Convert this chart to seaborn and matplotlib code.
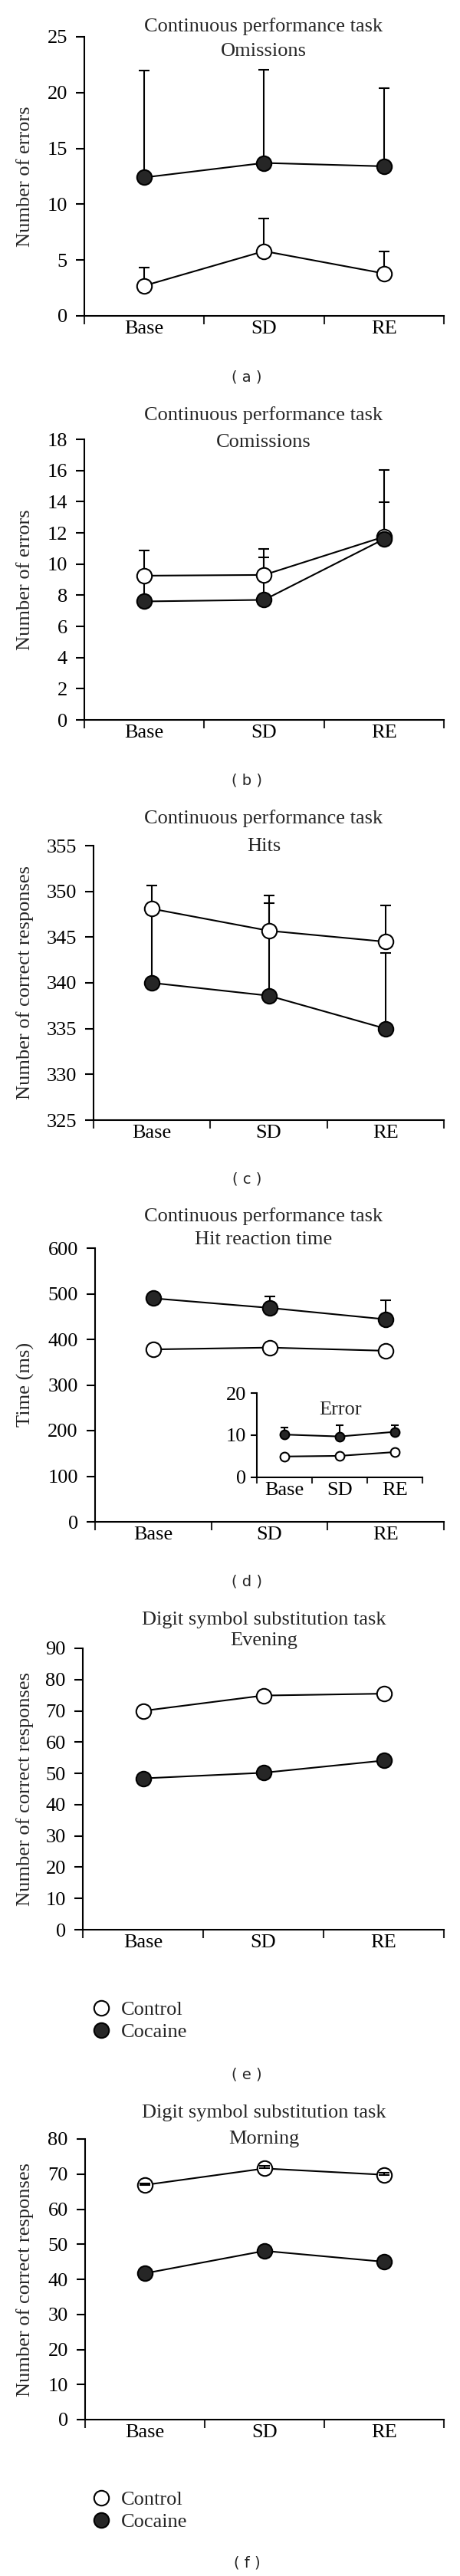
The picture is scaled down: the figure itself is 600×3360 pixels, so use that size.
import numpy as np
import pandas as pd
import seaborn as sns
import matplotlib.pyplot as plt
from matplotlib.lines import Line2D

conditions = ['Base', 'SD', 'RE']

# (a) omissions
omis_control = [2.7, 5.8, 3.8]
omis_control_err = [1.6, 2.9, 2.0]
omis_cocaine = [12.4, 13.7, 13.4]
omis_cocaine_err = [9.6, 8.35, 7.0]

# (b) comissions
comis_control = [9.25, 9.3, 11.75]
comis_control_err = [1.6, 1.65, 4.3]
comis_cocaine = [7.6, 7.7, 11.6]
comis_cocaine_err = [1.9, 2.75, 2.35]

# (c) hits
hits_control = [348.1, 345.7, 344.5]
hits_control_err = [2.55, 3.85, 4.0]
hits_cocaine = [340.0, 338.6, 335.0]
hits_cocaine_err = [7.8, 10.1, 8.3]

# (d) hit reaction time + inset error
rt_control = [378, 382, 375]
rt_control_err = [6, 7, 6]
rt_cocaine = [490, 469, 444]
rt_cocaine_err = [10, 25, 42]
rterr_control = [4.95, 5.1, 6.0]
rterr_control_err = [0.5, 0.5, 0.5]
rterr_cocaine = [10.15, 9.7, 10.8]
rterr_cocaine_err = [1.75, 2.6, 1.5]

# (e) DSST evening
eve_control = [70.0, 74.9, 75.5]
eve_cocaine = [48.4, 50.2, 54.1]

# (f) DSST morning
morn_control = [66.9, 71.6, 69.8]
morn_control_err = [0.5, 0.7, 0.6]
morn_cocaine = [41.7, 48.1, 45.0]

sns.set_theme(style='ticks')
plt.rcParams['font.family'] = ['Liberation Serif', 'DejaVu Serif']
plt.rcParams['axes.linewidth'] = 1.5

W, H = 600, 3360
fig = plt.figure(figsize=(W / 100, H / 100), dpi=100)

FS = 19
COC = '#262626'


def px_axes(left, right, top, bottom):
    return fig.add_axes([left / W, 1 - bottom / H, (right - left) / W, (bottom - top) / H])


def style_axis(ax, ylim, yticks, fs=FS, ms_tick=8):
    ax.set_xlim(0, 3)
    ax.set_ylim(*ylim)
    ax.set_yticks(yticks)
    ax.set_xticks([0, 1, 2, 3])
    ax.set_xticklabels([])
    ax.set_xticks([0.5, 1.5, 2.5], minor=True)
    ax.set_xticklabels(conditions, minor=True)
    ax.tick_params(axis='x', which='major', length=ms_tick, width=1.5, direction='out')
    ax.tick_params(axis='x', which='minor', length=0, pad=4, labelsize=fs, colors='black')
    ax.tick_params(axis='y', length=ms_tick, width=1.5, pad=8, labelsize=fs, colors='black')
    ax.set_xlabel('')
    ax.set_ylabel('')
    sns.despine(ax=ax)
    for s in ['left', 'bottom']:
        ax.spines[s].set_color('black')
        ax.spines[s].set_linewidth(1.5)


def plot_group(ax, vals, errs, face, z, ms=14, err_z=2, cap=5):
    xpos = np.arange(len(conditions)) + 0.5
    if errs is not None:
        ax.errorbar(xpos, vals, yerr=[np.zeros(len(errs)), errs], fmt='none',
                    ecolor='black', elinewidth=1.5, capsize=cap, capthick=1.5, zorder=err_z)
    df = pd.DataFrame({'pos': xpos, 'value': vals})
    sns.lineplot(data=df, x='pos', y='value', ax=ax, color='black', linewidth=1.5,
                 marker='o', markersize=ms, markerfacecolor=face, markeredgecolor='black',
                 markeredgewidth=1.5, zorder=z, legend=False)


def titles(lines, ys, x=344):
    for t, y in zip(lines, ys):
        fig.text(x / W, 1 - y / H, t, ha='center', va='center', fontsize=FS)


def ylabel(text, y):
    fig.text(33 / W, 1 - y / H, text, ha='center', va='center', rotation=90, fontsize=FS)


def panel_label(text, y):
    fig.text(322 / W, 1 - y / H, text, ha='center', va='center', fontsize=14,
             family=['DejaVu Sans'])


def legend_at(y):
    handles = [Line2D([], [], linestyle='none', marker='o', markersize=14,
                      markerfacecolor='white', markeredgecolor='black', markeredgewidth=1.5),
               Line2D([], [], linestyle='none', marker='o', markersize=14,
                      markerfacecolor=COC, markeredgecolor='black', markeredgewidth=1.5)]
    fig.legend(handles, ['Control', 'Cocaine'], loc='center left',
               bbox_to_anchor=(106 / W, 1 - y / H), frameon=False, fontsize=FS,
               borderpad=0, handlelength=1, handletextpad=0.48, labelspacing=0.2)


# (a)
ax = px_axes(110, 579, 48, 412)
plot_group(ax, omis_control, omis_control_err, 'white', 3)
plot_group(ax, omis_cocaine, omis_cocaine_err, COC, 4)
style_axis(ax, (0, 25), [0, 5, 10, 15, 20, 25])
titles(['Continuous performance task', 'Omissions'], [35, 67])
ylabel('Number of errors', 230)
panel_label('( a )', 492)

# (b)
ax = px_axes(110, 579, 573, 939)
plot_group(ax, comis_control, comis_control_err, 'white', 3)
plot_group(ax, comis_cocaine, comis_cocaine_err, COC, 4)
style_axis(ax, (0, 18), list(range(0, 19, 2)))
titles(['Continuous performance task', 'Comissions'], [542, 577])
ylabel('Number of errors', 756)
panel_label('( b )', 1018)

# (c)
ax = px_axes(122, 579, 1103, 1461)
plot_group(ax, hits_control, hits_control_err, 'white', 3)
plot_group(ax, hits_cocaine, hits_cocaine_err, COC, 4)
style_axis(ax, (325, 355), list(range(325, 356, 5)))
titles(['Continuous performance task', 'Hits'], [1068, 1104])
ylabel('Number of correct responses', 1282)
panel_label('( c )', 1538)

# (d)
ax = px_axes(124, 579, 1628, 1985)
plot_group(ax, rt_control, rt_control_err, 'white', 3)
plot_group(ax, rt_cocaine, rt_cocaine_err, COC, 4)
style_axis(ax, (0, 600), list(range(0, 601, 100)))
titles(['Continuous performance task', 'Hit reaction time'], [1587, 1617])
ylabel('Time (ms)', 1806)
panel_label('( d )', 2063)

ax_in = px_axes(335, 551, 1817, 1927)
plot_group(ax_in, rterr_control, rterr_control_err, 'white', 3, ms=8.5, cap=3.5)
plot_group(ax_in, rterr_cocaine, rterr_cocaine_err, COC, 4, ms=8.5, cap=3.5)
style_axis(ax_in, (0, 20), [0, 10, 20], ms_tick=6)
ax_in.tick_params(axis='y', pad=4)
ax_in.patch.set_alpha(0)
fig.text(444 / W, 1 - 1839 / H, 'Error', ha='center', va='center', fontsize=FS)

# (e)
ax = px_axes(108, 579, 2150, 2517)
plot_group(ax, eve_control, None, 'white', 3)
plot_group(ax, eve_cocaine, None, COC, 4)
style_axis(ax, (0, 90), list(range(0, 91, 10)))
titles(['Digit symbol substitution task', 'Evening'], [2113, 2140])
ylabel('Number of correct responses', 2334)
legend_at(2636)
panel_label('( e )', 2706)

# (f)
ax = px_axes(111, 579, 2790, 3156)
plot_group(ax, morn_control, morn_control_err, 'white', 3, err_z=5)
plot_group(ax, morn_cocaine, None, COC, 4)
style_axis(ax, (0, 80), list(range(0, 81, 10)))
titles(['Digit symbol substitution task', 'Morning'], [2756, 2790])
ylabel('Number of correct responses', 2973)
legend_at(3275)
panel_label('( f )', 3343)

fig.savefig('out.png', dpi=100, facecolor='white')
